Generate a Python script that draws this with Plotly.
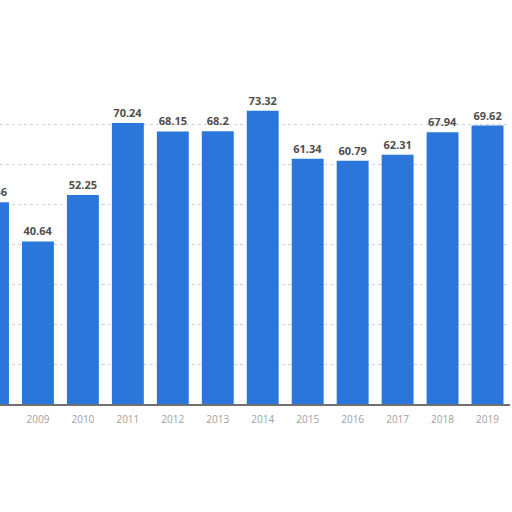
import plotly.graph_objects as go

years = ["2008", "2009", "2010", "2011", "2012", "2013", "2014",
         "2015", "2016", "2017", "2018", "2019"]
values = [50.46, 40.64, 52.25, 70.24, 68.15, 68.2, 73.32,
          61.34, 60.79, 62.31, 67.94, 69.62]
labels = [f"{v:g}" for v in values]

fig = go.Figure(go.Bar(
    x=years, y=values,
    marker=dict(color="#2a76da", line=dict(width=0)),
    text=labels, textposition="outside",
    textfont=dict(family="Open Sans, Roboto, sans-serif", size=11, color="#4f4f4f", weight="bold"),
    cliponaxis=True,
))

fig.update_layout(
    width=512, height=512,
    margin=dict(l=0, r=2, t=84, b=108),
    paper_bgcolor="white", plot_bgcolor="white",
    bargap=0.29,
    showlegend=False,
    xaxis=dict(type="category", range=[0.156, 11.5],
               showline=True, linecolor="#6f6f6f", linewidth=1.5,
               ticks="", ticklabelstandoff=5,
               tickfont=dict(family="Open Sans, sans-serif", size=10, color="#a0a0a0"),
               showgrid=False),
    yaxis=dict(range=[0, 80], dtick=10, showticklabels=False,
               showgrid=True, gridcolor="#d0d0d0", griddash="dot", gridwidth=1,
               zeroline=False, showline=False),
)

fig.write_html("out.html",
               config={"displayModeBar": False},
               post_script="document.body.style.margin='0';document.body.style.overflow='hidden';")
